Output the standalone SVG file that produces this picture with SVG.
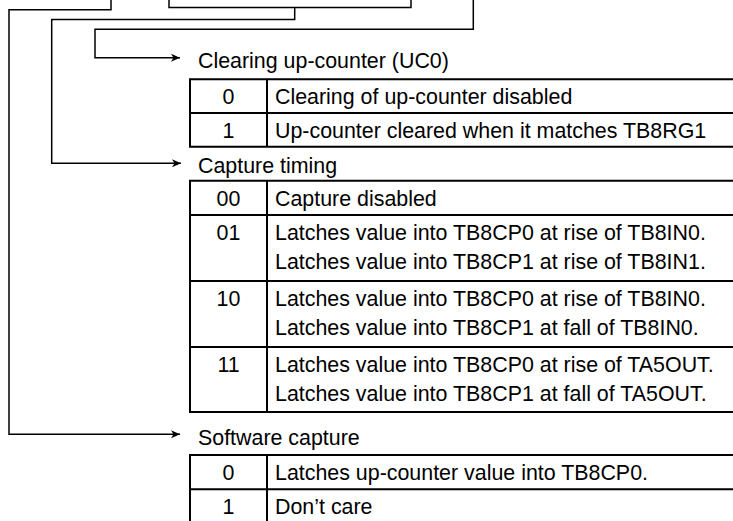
<svg xmlns="http://www.w3.org/2000/svg" width="733" height="521" viewBox="0 0 733 521">
<defs>
<marker id="arr" markerWidth="10" markerHeight="10" refX="9" refY="5" orient="auto" markerUnits="userSpaceOnUse">
<path d="M0,1 L9,5 L0,9 L2.5,5 Z" fill="#000"/>
</marker>
<style>
text{font-family:"Liberation Sans",Arial,sans-serif;font-size:21.4px;fill:#000}
.c{text-anchor:middle}
.tb{fill:none;stroke:#000;stroke-width:2}
.cn{fill:none;stroke:#000;stroke-width:1.5}
</style>
</defs>
<rect width="733" height="521" fill="#fff"/>
<g id="connectors">
<path class="cn" d="M169,0 V7.5 H411 V0"/>
<path class="cn" d="M111,0 V9.7 H9 V434.3 H180" marker-end="url(#arr)"/>
<path class="cn" d="M294.7,7.5 V19.5 H51.7 V163.3 H181" marker-end="url(#arr)"/>
<path class="cn" d="M473.3,0 V29.3 H95 V57.7 H180" marker-end="url(#arr)"/>
</g>
<g id="uc0">
<text x="198" y="67.5">Clearing up-counter (UC0)</text>
<path class="tb" d="M745,79.3 H190 V146.7 H745 M190,113 H745 M267,79.3 V146.7"/>
<text class="c" x="228.5" y="103.5">0</text>
<text x="275" y="103.5">Clearing of up-counter disabled</text>
<text class="c" x="228.5" y="137.5">1</text>
<text x="275" y="137.5">Up-counter cleared when it matches TB8RG1</text>
</g>
<g id="capture-timing">
<text x="198" y="173">Capture timing</text>
<path class="tb" d="M745,180.7 H190 V412 H745 M190,215 H745 M190,281 H745 M190,347 H745 M267,180.7 V412"/>
<text class="c" x="228.5" y="205.5">00</text>
<text x="275" y="205.5">Capture disabled</text>
<text class="c" x="228.5" y="239.5">01</text>
<text x="275" y="239.5">Latches value into TB8CP0 at rise of TB8IN0.</text>
<text x="275" y="269">Latches value into TB8CP1 at rise of TB8IN1.</text>
<text class="c" x="228.5" y="305.5">10</text>
<text x="275" y="305.5">Latches value into TB8CP0 at rise of TB8IN0.</text>
<text x="275" y="335">Latches value into TB8CP1 at fall of TB8IN0.</text>
<text class="c" x="228.5" y="371.5">11</text>
<text x="275" y="371.5">Latches value into TB8CP0 at rise of TA5OUT.</text>
<text x="275" y="401">Latches value into TB8CP1 at fall of TA5OUT.</text>
</g>
<g id="software-capture">
<text x="198" y="445">Software capture</text>
<path class="tb" d="M745,455 H190 V525 M190,489.3 H745 M267,455 V525"/>
<text class="c" x="228.5" y="479.5">0</text>
<text x="275" y="479.5">Latches up-counter value into TB8CP0.</text>
<text class="c" x="228.5" y="513.5">1</text>
<text x="275" y="513.5">Don’t care</text>
</g>
</svg>
